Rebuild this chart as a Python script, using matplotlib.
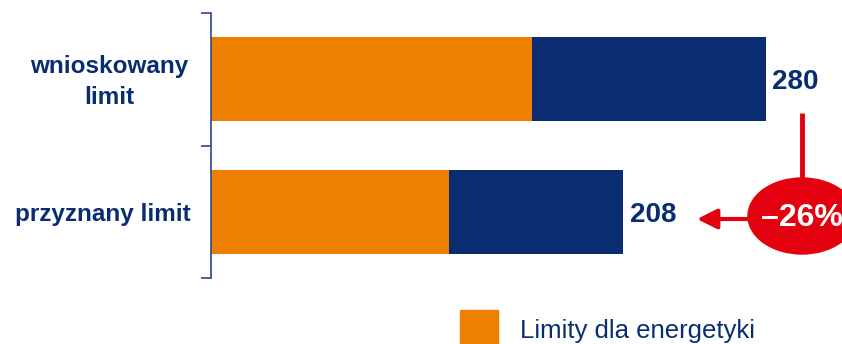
import matplotlib.pyplot as plt
from matplotlib.patches import Ellipse

plt.rcParams['font.family'] = ['Liberation Sans', 'DejaVu Sans']

# dane
kategorie = ['przyznany limit', 'wnioskowany\nlimit']
energetyka = [120, 162]
pozostale = [88, 118]
sumy = [208, 280]
zmiana = '\u201326%'

ORANGE = '#EE7F00'
NAVY = '#0A2D72'
RED = '#E3000F'

W, H = 842, 344
fig = plt.figure(figsize=(W / 100, H / 100), dpi=100)
fig.patch.set_facecolor('white')

# osie wykresu w pikselach obrazu
x0, x1, y0, y1 = 211, 766, 13, 278
ax = fig.add_axes([x0 / W, 1 - y1 / H, (x1 - x0) / W, (y1 - y0) / H])

y = range(len(kategorie))
ax.barh(y, energetyka, height=0.635, color=ORANGE)
ax.barh(y, pozostale, left=energetyka, height=0.635, color=NAVY)
ax.set_xlim(0, max(sumy))
ax.set_ylim(-0.5, 1.5)

for s in ['top', 'right', 'bottom']:
    ax.spines[s].set_visible(False)
ax.spines['left'].set_color('#2B4A8A')
ax.spines['left'].set_linewidth(1.2)
ax.set_xticks([])
ax.set_yticks([-0.5, 0.5, 1.5])
ax.set_yticklabels([])
ax.tick_params(axis='y', length=7, width=1.2, color='#2B4A8A', direction='out')

# etykiety kategorii (dwuwierszowa wysrodkowana, jednowierszowa do prawej)
for i, k in enumerate(kategorie):
    if '\n' in k:
        off, ha = -73.5, 'center'
    else:
        off, ha = -15, 'right'
    ax.annotate(k, xy=(0, i), xytext=(off, -2), textcoords='offset points',
                ha=ha, va='center', fontsize=17.5, fontweight='bold',
                color=NAVY, linespacing=1.45, annotation_clip=False)

# wartosci
for i, s in enumerate(sumy):
    ax.annotate(str(s), xy=(s, i), xytext=(4.5, -2), textcoords='offset points',
                ha='left', va='center', fontsize=20, fontweight='bold',
                color=NAVY, annotation_clip=False)

# nakladka z elipsa i strzalka
ov = fig.add_axes([0, 0, 1, 1])
ov.set_xlim(0, W)
ov.set_ylim(H, 0)
ov.axis('off')
ov.patch.set_alpha(0)
ov.plot([802, 802], [113, 182], color=RED, lw=3.5, solid_capstyle='butt')
ov.annotate('', xy=(697, 219), xytext=(752, 219),
            arrowprops=dict(arrowstyle='-|>,head_length=1.2,head_width=0.6',
                            color=RED, lw=3, shrinkA=0, shrinkB=0))
ov.add_patch(Ellipse((802, 216), 108, 76, color=RED))
ov.text(802, 218, zmiana, ha='center', va='center', fontsize=23,
        fontweight='bold', color='white')

# legenda
ov.add_patch(plt.Rectangle((460, 310), 38, 40, color=ORANGE))
ov.text(520, 338, 'Limity dla energetyki', ha='left', va='baseline',
        fontsize=18.5, color=NAVY)

fig.savefig('out.png', dpi=100)
